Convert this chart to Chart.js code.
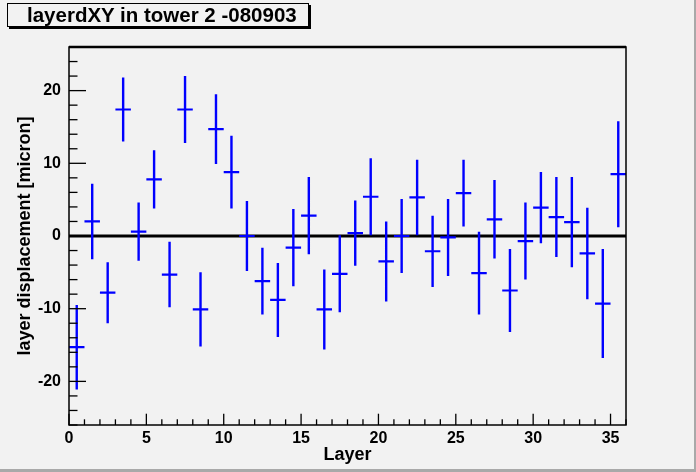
<!DOCTYPE html>
<html>
<head>
<meta charset="utf-8">
<script src="https://cdn.jsdelivr.net/npm/chart.js@4"></script>
<style>
  body { margin: 0; background: #f2f2f2; }
  #wrap { position: relative; width: 696px; height: 472px; background: #f2f2f2; overflow: hidden; }
  #edgeR { position: absolute; right: 0; top: 0; width: 2px; height: 472px; background: #a9a9a9; }
  #edgeB { position: absolute; left: 0; bottom: 0; width: 696px; height: 3px; background: #a9a9a9; }
  #title {
    position: absolute; left: 7px; top: 3px; height: 22px;
    border: 1px solid #000; background: #f2f2f2; box-shadow: 2px 2px 0 #000;
    font: bold 20.5px "Liberation Sans", Arial, sans-serif; line-height: 22px;
    padding-left: 19px; box-sizing: content-box; width: 281px; white-space: nowrap;
  }
</style>
</head>
<body>
<div id="wrap">
  <canvas id="myChart"></canvas>
  <div id="edgeR"></div>
  <div id="edgeB"></div>
  <div id="title">layerdXY in tower 2 -080903</div>
</div>
<script>
// layer number (bin low edge), bin width 1
const layers = [0, 1, 2, 3, 4, 5, 6, 7, 8, 9, 10, 11, 12, 13, 14, 15, 16, 17,
  18, 19, 20, 21, 22, 23, 24, 25, 26, 27, 28, 29, 30, 31, 32, 33, 34, 35];
const displacement = [-15.3, 2.0, -7.8, 17.4, 0.6, 7.8, -5.3, 17.4, -10.1, 14.7, 8.8, 0.0,
  -6.2, -8.8, -1.6, 2.8, -10.1, -5.2, 0.4, 5.4, -3.5, 0.0, 5.3, -2.1,
  -0.2, 5.9, -5.1, 2.3, -7.5, -0.7, 3.9, 2.6, 1.9, -2.4, -9.3, 8.5];
const errors = [5.8, 5.2, 4.2, 4.4, 4.0, 4.0, 4.5, 4.6, 5.1, 4.8, 5.0, 4.8,
  4.6, 5.1, 5.3, 5.3, 5.5, 5.3, 4.5, 5.3, 5.5, 5.1, 5.2, 4.9,
  5.3, 4.6, 5.7, 5.4, 5.7, 5.3, 4.9, 5.5, 6.2, 6.3, 7.5, 7.3];
const binWidth = 1;
const yLabels = [-20, -10, 0, 10, 20];

// segments separated by nulls so each error bar is its own piece
const vSeg = [], hSeg = [];
layers.forEach((l, i) => {
  const xc = l + binWidth / 2;
  vSeg.push({x: xc, y: displacement[i] - errors[i]}, {x: xc, y: displacement[i] + errors[i]}, {x: xc, y: null});
  hSeg.push({x: l, y: displacement[i]}, {x: l + binWidth, y: displacement[i]}, {x: l, y: null});
});

const FONT = "'Liberation Sans', Arial, sans-serif";

const frame = {
  id: 'frame',
  afterDraw(chart) {
    const {ctx, chartArea: a, scales} = chart;
    ctx.save();
    ctx.strokeStyle = '#000';
    // inward ticks
    ctx.lineWidth = 1.3;
    scales.y.ticks.forEach(t => {
      const y = scales.y.getPixelForValue(t.value);
      const len = t.value % 10 === 0 ? 17 : 8.5;
      ctx.beginPath(); ctx.moveTo(a.left, y); ctx.lineTo(a.left + len, y); ctx.stroke();
    });
    scales.x.ticks.forEach(t => {
      const x = scales.x.getPixelForValue(t.value);
      const len = t.value % 5 === 0 ? 11.3 : 5.7;
      ctx.beginPath(); ctx.moveTo(x, a.bottom); ctx.lineTo(x, a.bottom - len); ctx.stroke();
    });
    ctx.lineWidth = 1.5;
    ctx.strokeRect(a.left, a.top, a.right - a.left, a.bottom - a.top);
    ctx.lineWidth = 2.5;
    ctx.beginPath(); ctx.moveTo(a.left, a.top); ctx.lineTo(a.right, a.top); ctx.stroke();
    ctx.restore();
  }
};

const ctx = document.getElementById('myChart');
new Chart(ctx, {
  type: 'scatter',
  data: {
    datasets: [
      { data: vSeg, showLine: true, spanGaps: false, borderColor: '#0000ff', borderWidth: 2.4, pointRadius: 0, order: 0 },
      { data: hSeg, showLine: true, spanGaps: false, borderColor: '#0000ff', borderWidth: 2.2, pointRadius: 0, order: 1 },
      { data: [{x: 0, y: 0}, {x: 36, y: 0}], showLine: true, borderColor: '#000', borderWidth: 3, pointRadius: 0, order: 2 }
    ]
  },
  options: {
    responsive: true,
    maintainAspectRatio: false,
    animation: false,
    layout: { padding: { top: 47, right: 70, left: 0, bottom: 0 } },
    plugins: { legend: { display: false }, tooltip: { enabled: false } },
    scales: {
      x: {
        type: 'linear', min: 0, max: 36,
        afterFit: s => { s.height = 47; },
        grid: { display: false, drawTicks: false },
        border: { display: false },
        ticks: {
          stepSize: 1, autoSkip: false, maxRotation: 0, padding: 4,
          color: '#000', font: { family: FONT, size: 16, weight: 'bold' },
          callback: v => (v % 5 === 0 ? v : '')
        },
        title: { display: true, text: 'Layer', color: '#000', padding: { top: 0, bottom: 6 },
          font: { family: FONT, size: 18, weight: 'bold' } }
      },
      y: {
        min: -26, max: 26,
        afterFit: s => { s.width = 69; },
        grid: { display: false, drawTicks: false },
        border: { display: false },
        ticks: {
          stepSize: 2, autoSkip: false, padding: 8,
          color: '#000', font: { family: FONT, size: 16, weight: 'bold' },
          callback: v => (yLabels.includes(v) ? v : '')
        },
        title: { display: true, text: 'layer displacement [micron]', color: '#000', padding: { top: 14, bottom: 0 },
          font: { family: FONT, size: 18, weight: 'bold' } }
      }
    }
  },
  plugins: [frame]
});
</script>
</body>
</html>
